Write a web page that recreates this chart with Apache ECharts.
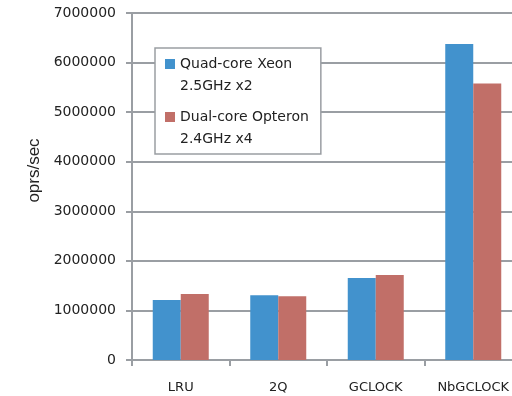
<!DOCTYPE html>
<html><head><meta charset="utf-8">
<script src="https://cdn.jsdelivr.net/npm/echarts@6/dist/echarts.min.js"></script>
<style>html,body{margin:0;padding:0;background:#fff;overflow:hidden;width:512px;height:396px}#c{width:522px;height:396px}</style>
</head><body><div id="c"></div>
<script>
var categories = ['LRU', '2Q', 'GCLOCK', 'NbGCLOCK'];
var seriesNames = ['Quad-core Xeon', 'Dual-core Opteron'];
var legendLines = ['Quad-core Xeon\n2.5GHz x2', 'Dual-core Opteron\n2.4GHz x4'];
var xeonValues = [1210000, 1305000, 1655000, 6375000];
var opteronValues = [1330000, 1285000, 1715000, 5580000];
var yTicks = [0, 1000000, 2000000, 3000000, 4000000, 5000000, 6000000, 7000000];

var FONT = 'DejaVu Sans';
var GRID = '#9a9ea3';
var chart = echarts.init(document.getElementById('c'), null, {renderer: 'canvas'});
var iconPath = 'path://M0,0L10,0L10,10L0,10Z M0,32L0.001,32';
chart.setOption({
  animation: false,
  backgroundColor: '#fff',
  grid: {left: 132, top: 13, bottom: 36, right: 0, containLabel: false},
  legend: {
    orient: 'vertical', left: 155, top: 48,
    padding: [5, 12, 4, 10],
    backgroundColor: '#fff', borderColor: '#9a9ea3', borderWidth: 1.5,
    itemGap: 9, itemWidth: 10, itemHeight: 32,
    icon: iconPath,
    data: seriesNames,
    formatter: function (n) { return legendLines[seriesNames.indexOf(n)]; },
    textStyle: {fontFamily: FONT, fontSize: 14, color: '#222', lineHeight: 22}
  },
  xAxis: {
    type: 'category', data: categories,
    axisLine: {lineStyle: {color: GRID, width: 2}},
    axisTick: {show: true, length: 6, lineStyle: {color: GRID, width: 2}},
    axisLabel: {fontFamily: FONT, fontSize: 13, color: '#222', margin: 21}
  },
  yAxis: {
    type: 'value', min: 0, max: 7000000, interval: 1000000,
    name: 'oprs/sec', nameLocation: 'middle', nameRotate: 90, nameGap: 88,
    nameTextStyle: {fontFamily: 'Liberation Sans', fontSize: 17, color: '#222', padding: [0, 0, 0, 32]},
    axisLine: {show: true, lineStyle: {color: GRID, width: 2}},
    axisTick: {show: true, length: 6, lineStyle: {color: GRID, width: 2}},
    splitLine: {show: true, lineStyle: {color: GRID, width: 2}},
    axisLabel: {fontFamily: FONT, fontSize: 14, color: '#222', margin: 16,
      formatter: function (v) { return String(v); }}
  },
  series: [
    {name: seriesNames[0], type: 'bar', data: xeonValues, barWidth: 28, barGap: '0%',
     itemStyle: {color: '#4292cd'}},
    {name: seriesNames[1], type: 'bar', data: opteronValues, barWidth: 28, barGap: '0%',
     itemStyle: {color: '#c16f68'}}
  ]
});
</script></body></html>
